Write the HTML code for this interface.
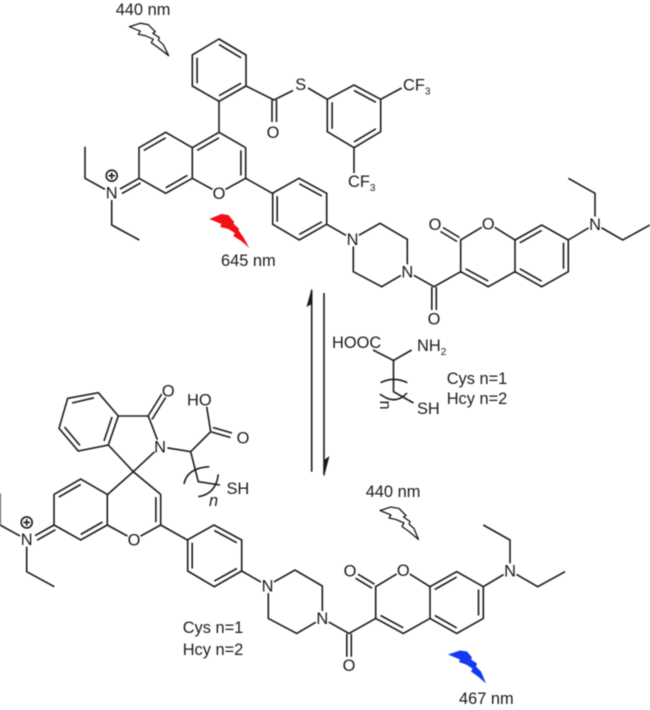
<!DOCTYPE html>
<html><head><meta charset="utf-8"><style>
html,body{margin:0;padding:0;background:#fff;width:650px;height:710px;overflow:hidden}
svg{display:block;filter:blur(.4px)}
text{font-family:"Liberation Sans",sans-serif;font-size:16.4px;fill:#1a1a1a}
.a{text-anchor:middle}
.l{fill:none;stroke:#1a1a1a;stroke-width:1.6}
.s{font-size:10px}
.w{fill:#fff;stroke:none}
</style></head><body>
<svg width="650" height="710" viewBox="0 0 650 710" xmlns="http://www.w3.org/2000/svg">

<!-- upper -->
<g>
<path class="l" d="M192.3 147.7L165.7 132.3L139 147.7V178.3L165.7 193.3L192.3 178.3V147.7M143.8 150.4L165.7 137.8M165.7 187.8L187.5 175.3
M192.3 178.3L219 193L245.7 178.3V147.7M240.9 150.4V175.5
M139 178.3L120 189M140.5 183L122 193.5
M111.7 193V225L139.3 240M111.7 193L85 178.3V146.7
M245.7 178.3L272.3 193.3L299 178.3L326.7 193.3V224.3L299.3 240L272.7 224.3V193.3M299.3 183.8L321.9 196.1M277.2 196.1V221.8M321.9 221.8L299.3 234.4
M326.7 224.3L352.3 239L380 223.3L407.3 239.3V271.7L381.7 286.7L353.3 271.7V239
M407.3 271.7L434 286.7L460.7 271.7V240L488.3 223.3L515 240V271.7L488.3 286.7L460.7 271.7M465.6 268.8L488.3 281.1
M515 240L541.7 225L568.3 240V271.7L541.7 286.7L515 271.7M519.8 242.8L541.7 230.4M563.5 242.8V268.8M519.8 268.8L541.7 281.2
M431.8 287V310M436.3 287V310
M459.5 237.5L443 227.5M457 241.5L440.5 231.5
M568.3 240L595 224V193.3L568.3 178.3M595 224L622.7 240L650 225"/>
<circle class="l" cx="111.7" cy="175.7" r="5.5" stroke-width="1.1"/>
<path class="l" stroke-width="1" d="M108.5 175.7H115M111.7 172.5V179"/>
<circle class="w" cx="111.7" cy="192.6" r="7.5"/>
<circle class="w" cx="219" cy="193" r="7.5"/>
<circle class="w" cx="352.5" cy="239" r="7.5"/>
<circle class="w" cx="407.3" cy="271.7" r="7.5"/>
<circle class="w" cx="434" cy="318.5" r="7.5"/>
<circle class="w" cx="435" cy="224" r="7.5"/>
<circle class="w" cx="488.3" cy="223.5" r="7.5"/>
<circle class="w" cx="595" cy="224" r="7.5"/>
<text class="a" x="111.7" y="198.5">N</text>
<text class="a" x="219" y="199">O</text>
<text class="a" x="352.5" y="245">N</text>
<text class="a" x="407.3" y="277.5">N</text>
<text class="a" x="434" y="324.5">O</text>
<text class="a" x="435" y="230">O</text>
<text class="a" x="488.3" y="229.5">O</text>
<text class="a" x="595" y="230">N</text>
</g>

<!-- lower -->
<g transform="translate(-85,346.7)">
<path class="l" d="M192.3 147.7L165.7 132.3L139 147.7V178.3L165.7 193.3L192.3 178.3V147.7M143.8 150.4L165.7 137.8M165.7 187.8L187.5 175.3
M192.3 178.3L219 193L245.7 178.3V147.7M240.9 150.4V175.5
M139 178.3L120 189M140.5 183L122 193.5
M111.7 193V225L139.3 240M111.7 193L85 178.3V146.7
M245.7 178.3L272.3 193.3L299 178.3L326.7 193.3V224.3L299.3 240L272.7 224.3V193.3M299.3 183.8L321.9 196.1M277.2 196.1V221.8M321.9 221.8L299.3 234.4
M326.7 224.3L352.3 239L380 223.3L407.3 239.3V271.7L381.7 286.7L353.3 271.7V239
M407.3 271.7L434 286.7L460.7 271.7V240L488.3 223.3L515 240V271.7L488.3 286.7L460.7 271.7M465.6 268.8L488.3 281.1
M515 240L541.7 225L568.3 240V271.7L541.7 286.7L515 271.7M519.8 242.8L541.7 230.4M563.5 242.8V268.8M519.8 268.8L541.7 281.2
M431.8 287V310M436.3 287V310
M459.5 237.5L443 227.5M457 241.5L440.5 231.5
M568.3 240L595 224V193.3L568.3 178.3M595 224L622.7 240L650 225"/>
<circle class="l" cx="111.7" cy="175.7" r="5.5" stroke-width="1.1"/>
<path class="l" stroke-width="1" d="M108.5 175.7H115M111.7 172.5V179"/>
<circle class="w" cx="111.7" cy="192.6" r="7.5"/>
<circle class="w" cx="219" cy="193" r="7.5"/>
<circle class="w" cx="352.5" cy="239" r="7.5"/>
<circle class="w" cx="407.3" cy="271.7" r="7.5"/>
<circle class="w" cx="434" cy="318.5" r="7.5"/>
<circle class="w" cx="435" cy="224" r="7.5"/>
<circle class="w" cx="488.3" cy="223.5" r="7.5"/>
<circle class="w" cx="595" cy="224" r="7.5"/>
<text class="a" x="111.7" y="198.5">N</text>
<text class="a" x="219" y="199">O</text>
<text class="a" x="352.5" y="245">N</text>
<text class="a" x="407.3" y="277.5">N</text>
<text class="a" x="434" y="324.5">O</text>
<text class="a" x="435" y="230">O</text>
<text class="a" x="488.3" y="229.5">O</text>
<text class="a" x="595" y="230">N</text>
</g>

<!-- upper only -->
<path class="l" d="M245.7 147.7L219 132.3L192.3 147.7M197.1 150.4L219 137.8M219 132.3V101.3
M219 39L246 55V86L219 101.3L192.3 86V55ZM219 44.6L241.1 57.8M197.1 57.8V83.2M241.1 83.2L219 95.7
M246 86L274 100L293 90.5M308 88L327.3 99.3M272 100V122M276.5 100V122
M327.3 99.3L354 85L380.7 99.3V131.7L354 147.7L327.3 131.7ZM354 90.5L375.9 102.3M332.1 102.3V128.8M354 141.9L375.9 128.8
M380.7 99.3L401.7 88M354 147.7V173"/>
<text class="a" x="300.7" y="90">S</text>
<text class="a" x="273" y="138">O</text>
<text x="403" y="90.5">CF<tspan class="s" dy="4">3</tspan></text>
<text x="348" y="187">CF<tspan class="s" dy="4">3</tspan></text>

<!-- lower only -->
<path class="l" d="M160.7 494.4L133.3 471.7L107 495M133.3 471.7L108.3 445M133.3 471.7L160 446.7
M98.3 392.7L118.3 416L108.3 445L78.3 451L59 428.3L67.7 398.3ZM72 403L94 397.8M64.5 427L80 445.5M104 441L112 417
M118.3 416H148.3L160 446.7M147.5 417L163 392M152 419.5L167.5 394.5
M160 446.7L190.7 451.7L210.7 431.7L206.7 406.7M213 427.5L232 433M211.5 432L230.5 437.5
M190.7 451.7L198.3 481.7L220 485
M184 484Q187 468 209.3 466.7M198.3 496.7Q216 494 218.3 474.3"/>
<circle class="w" cx="160" cy="446.7" r="7.5"/>
<circle class="w" cx="168.3" cy="390.5" r="7.5"/>
<circle class="w" cx="243" cy="437.7" r="7.5"/>
<text class="a" x="160" y="452.5">N</text>
<text class="a" x="168.3" y="396.5">O</text>
<text class="a" x="243" y="443.5">O</text>
<text x="187" y="405.5">HO</text>
<text x="226.5" y="494">SH</text>
<text x="213.5" y="506" text-anchor="middle" font-style="italic">n</text>
<text x="182.7" y="633">Cys n=1</text>
<text x="182.7" y="655">Hcy n=2</text>

<!-- equilibrium arrows -->
<path class="l" d="M311.7 471.7V290M324 293V475"/>
<path fill="#1a1a1a" d="M311.7 288L306.5 307L311.7 304Z"/>
<path fill="#1a1a1a" d="M324 477L329.5 456L324 460Z"/>

<!-- reagent -->
<path class="l" d="M373 350L393.5 360.5L411.7 350M393.5 360.5V391.7L413.5 403M380.7 382.7Q393.5 376 407.3 382.7M380 394Q395 406 407 393"/>
<text x="332" y="348">HOOC</text>
<text x="417" y="351">NH<tspan class="s" dy="4">2</tspan></text>
<text x="417" y="414">SH</text>
<text x="384" y="405" text-anchor="middle" transform="rotate(90 384 405)" dy="4">n</text>
<text x="446.7" y="384">Cys n=1</text>
<text x="446.7" y="404">Hcy n=2</text>

<!-- light labels -->
<text x="115.7" y="15">440 nm</text>
<text x="221" y="266">645 nm</text>
<text x="365.7" y="497">440 nm</text>
<text x="459" y="704">467 nm</text>

<!-- bolts -->
<path transform="translate(129.3,26.7)" fill="#fff" stroke="#1a1a1a" stroke-width="1.3" stroke-linejoin="round" d="M0 0L11-3.5L19-2L26 5L23.5 6.5L30 11L29 13.5L34 18L39.4 29L29 21L22 16L24 12.5L16 9L9 7.5L11 4.5Z"/>
<path transform="translate(380,510.5)" fill="#fff" stroke="#1a1a1a" stroke-width="1.3" stroke-linejoin="round" d="M0 0L11-3.5L19-2L26 5L23.5 6.5L30 11L29 13.5L34 18L38.5 29L29 21L22 16L24 12.5L16 9L9 7.5L11 4.5Z"/>
<path transform="translate(209.3,219)" fill="#f40f18" d="M0 0L12-5L19-4L25 3L24 4.5L30 10L29 11L34 18L40 29L32 22L24 17L25.5 14L19 10L11 8L12 5Z"/>
<path transform="translate(448,654.5)" fill="#1438f2" d="M0 0L12-4L19-3L24 3L23 5L29 9L28 12L33 17L38 29L30 22L23 17L24.5 14L18 10L11 7.5L12 5Z"/>
</svg>
</body></html>
